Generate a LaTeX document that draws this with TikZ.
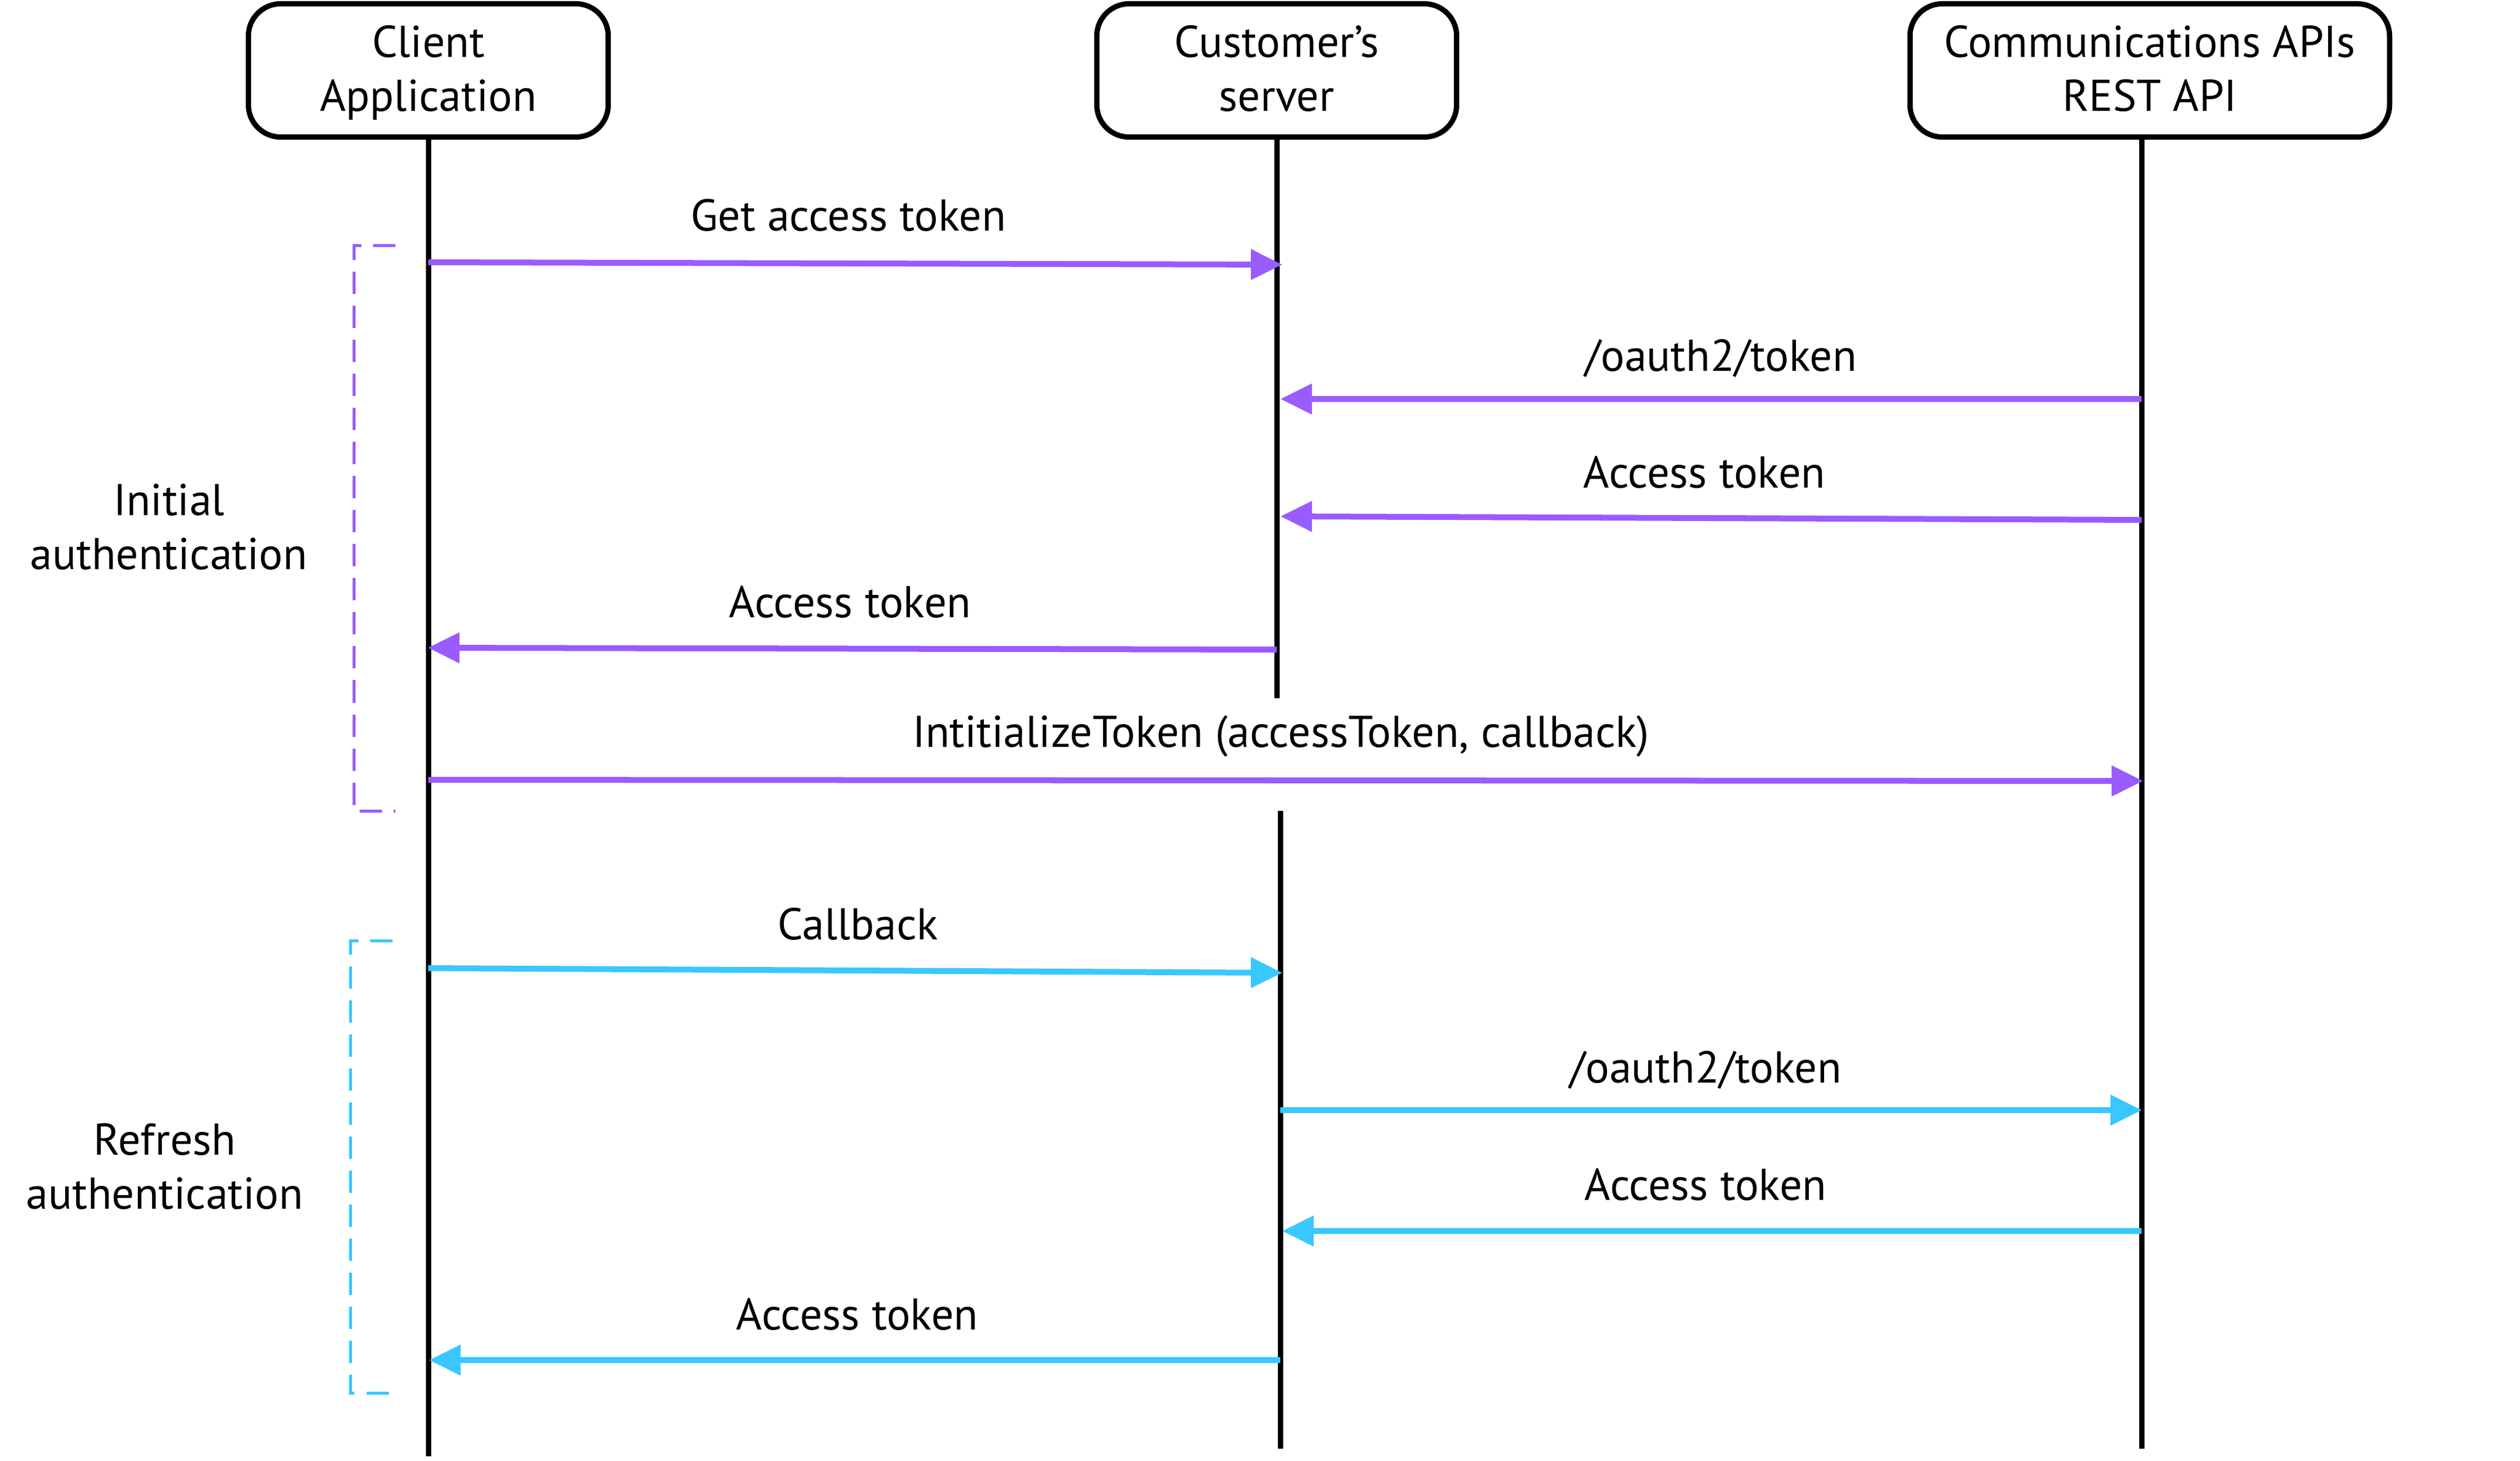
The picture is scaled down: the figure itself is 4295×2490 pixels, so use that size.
\documentclass[tikz,border=0pt]{standalone}
\usepackage{fontspec}
\setmainfont{PT Sans}
\usetikzlibrary{arrows.meta}
\definecolor{authpurple}{RGB}{152,92,255}
\definecolor{authcyan}{RGB}{56,200,255}
\newcommand\topstrut{\rule{0pt}{0.65cm}}
\newcommand\botstrut{\rule[-0.18cm]{0pt}{0.18cm}}
\begin{document}
\begin{tikzpicture}[x=0.01cm,y=-0.01cm,
  every node/.style={font=\fontsize{21.6pt}{26.4pt}\selectfont, inner sep=0pt},
  actor/.style={draw=black, line width=0.09cm, rounded corners=0.55cm, minimum width=6.13cm, minimum height=2.27cm, align=center},
  lifeline/.style={draw=black, line width=0.09cm},
  msg/.style={line width=0.1cm, -{Triangle[length=0.53cm,width=0.53cm,line width=0pt]}},
  msgtext/.style={anchor=base},
  bracketline/.style={line width=0.05cm, dash pattern=on 0.38cm off 0.2cm},
  grouptext/.style={align=center},
]
\useasboundingbox (0,0) rectangle (4295,2490);
% participants
\node[actor] (client) at (730,120) {\topstrut Client\\Application\botstrut};
\node[actor] (server) at (2176,120) {\topstrut Customer’s\\server\botstrut};
\node[actor, minimum width=8.17cm] (comms) at (3664,120) {\topstrut Communications APIs\\REST API\botstrut};
% lifeline coordinates
\coordinate (clientEnd) at (730,2482);
\coordinate (serverBreak) at (2176,1190);
\coordinate (serverResume) at (2182,1382);
\coordinate (serverEnd) at (2182,2469);
\coordinate (commsTop) at (3650,234);
\coordinate (commsEnd) at (3650,2469);
\draw[lifeline] (client.south) -- (clientEnd);
\draw[lifeline] (server.south) -- (serverBreak);
\draw[lifeline] (serverResume) -- (serverEnd);
\draw[lifeline] (commsTop) -- (commsEnd);
% message coordinates
\coordinate (m1s) at (730,447);  \coordinate (m1e) at (2185,451);
\coordinate (m2s) at (3650,680); \coordinate (m2e) at (2183,680);
\coordinate (m3s) at (3650,886); \coordinate (m3e) at (2183,880);
\coordinate (m4s) at (2176,1107); \coordinate (m4e) at (730,1104);
\coordinate (m5s) at (730,1329); \coordinate (m5e) at (3652,1331);
\coordinate (m6s) at (730,1650); \coordinate (m6e) at (2185,1658);
\coordinate (m7s) at (2182,1892); \coordinate (m7e) at (3650,1892);
\coordinate (m8s) at (3650,2098); \coordinate (m8e) at (2186,2098);
\coordinate (m9s) at (2182,2318); \coordinate (m9e) at (732,2318);
% initial authentication (purple)
\draw[msg, authpurple] (m1s) -- (m1e);
\draw[msg, authpurple] (m2s) -- (m2e);
\draw[msg, authpurple] (m3s) -- (m3e);
\draw[msg, authpurple] (m4s) -- (m4e);
\draw[msg, authpurple] (m5s) -- (m5e);
% refresh authentication (cyan)
\draw[msg, authcyan] (m6s) -- (m6e);
\draw[msg, authcyan] (m7s) -- (m7e);
\draw[msg, authcyan] (m8s) -- (m8e);
\draw[msg, authcyan] (m9s) -- (m9e);
% message labels
\node[msgtext] (l1) at (1446,393) {Get access token};
\node[msgtext] (l2) at (2933,632) {/oauth2/token};
\node[msgtext] (l3) at (2905,831) {Access token};
\node[msgtext] (l4) at (1449,1052) {Access token};
\node[msgtext] (l5) at (2183,1273) {IntitializeToken (accessToken, callback)};
\node[msgtext] (l6) at (1462,1601) {Callback};
\node[msgtext] (l7) at (2907,1845) {/oauth2/token};
\node[msgtext] (l8) at (2907,2045) {Access token};
\node[msgtext] (l9) at (1461,2266) {Access token};
% group brackets
\coordinate (bp1) at (674,418); \coordinate (bp2) at (603,418);
\coordinate (bp3) at (603,1382); \coordinate (bp4) at (674,1382);
\draw[bracketline, authpurple] (bp1) -- (bp2) -- (bp3) -- (bp4);
\coordinate (bc1) at (669,1603); \coordinate (bc2) at (597,1603);
\coordinate (bc3) at (597,2374); \coordinate (bc4) at (669,2374);
\draw[bracketline, authcyan] (bc1) -- (bc2) -- (bc3) -- (bc4);
\node[grouptext] (initlbl) at (288,898) {Initial\\authentication};
\node[grouptext] (refreshlbl) at (281,1988) {Refresh\\authentication};
\end{tikzpicture}
\end{document}
